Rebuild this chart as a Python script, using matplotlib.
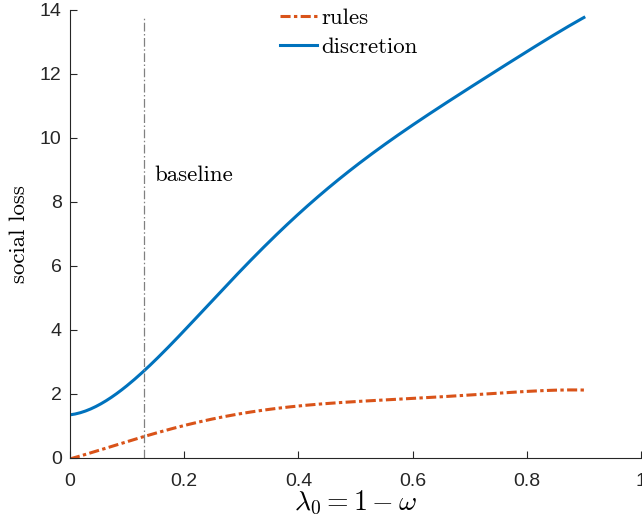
import numpy as np
import matplotlib
matplotlib.use('Agg')
import matplotlib.pyplot as plt

# values
x_pts = [0.0, 0.05, 0.1, 0.13, 0.2, 0.3, 0.4, 0.5, 0.6, 0.7, 0.8, 0.9]
discretion = [1.38, 1.62, 2.2, 2.75, 4.05, 5.9, 7.55, 9.1, 10.45, 11.6, 12.65, 13.78]
rules = [0.0, 0.18, 0.5, 0.7, 1.05, 1.38, 1.6, 1.76, 1.88, 1.98, 2.06, 2.13]
baseline_x = 0.13
x_ticks = [0, 0.2, 0.4, 0.6, 0.8, 1]
y_ticks = [0, 2, 4, 6, 8, 10, 12, 14]

blue = (0.0, 0.447, 0.741)
orange = (0.851, 0.325, 0.098)
axcol = (0.15, 0.15, 0.15)

plt.rcParams['mathtext.fontset'] = 'cm'

fig = plt.figure(figsize=(6.42, 5.2), dpi=100)
ax = fig.add_axes([70/642, 62/520, 571/642, 448/520])

# smooth curves through the read points
xs = np.linspace(0, 0.9, 200)
cd = np.polyfit(x_pts, discretion, 5)
cr = np.polyfit(x_pts, rules, 5)
d_s = np.polyval(cd, xs)
r_s = np.polyval(cr, xs)

ax.plot(xs, r_s, color=orange, lw=2.2, dashes=(3.3, 1.1, 1.1, 1.1), label='rules')
ax.plot(xs, d_s, color=blue, lw=2.2, label='discretion')
ax.plot([baseline_x, baseline_x], [0, max(discretion)], color=(0.5, 0.5, 0.5), lw=0.9,
        dashes=(7, 2, 1.2, 2))
ax.text(baseline_x + 0.017, 8.85, 'baseline', fontfamily='cmr10', fontsize=16.5,
        va='center', ha='left')

ax.set_xlim(0, 1)
ax.set_ylim(0, 14)
ax.set_xticks(x_ticks)
ax.set_xticklabels(['0', '0.2', '0.4', '0.6', '0.8', '1'])
ax.set_yticks(y_ticks)
for s in ['top', 'right']:
    ax.spines[s].set_visible(False)
for s in ['left', 'bottom']:
    ax.spines[s].set_color(axcol)
    ax.spines[s].set_linewidth(0.8)
ax.tick_params(direction='in', length=5, width=0.8, color=axcol, labelcolor=axcol,
               labelsize=14, pad=6)
ax.tick_params(axis='x', pad=11)
for lab in ax.get_xticklabels() + ax.get_yticklabels():
    lab.set_fontfamily('Liberation Sans')

ax.set_xlabel(r'$\lambda_0 = 1-\omega$', fontsize=20, labelpad=-1)
ax.set_ylabel('social loss', fontfamily='cmr10', fontsize=16.5, labelpad=8)

leg = ax.legend(loc='upper left', bbox_to_anchor=(280/642, 1 - 8/520),
                bbox_transform=fig.transFigure, frameon=False, borderpad=0,
                borderaxespad=0, handlelength=1.6, handletextpad=0.2,
                labelspacing=0.38, prop={'family': 'cmr10', 'size': 16.5})

plt.savefig('out.png', dpi=100)
